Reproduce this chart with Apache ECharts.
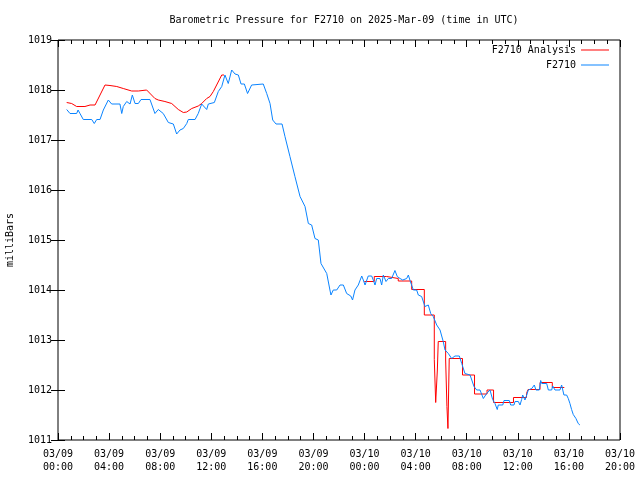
<!DOCTYPE html>
<html>
<head>
<meta charset="utf-8">
<script src="https://cdn.jsdelivr.net/npm/echarts@6/dist/echarts.min.js"></script>
<style>html,body{margin:0;padding:0;background:#fff}#c{width:640px;height:480px}</style>
</head>
<body>
<div id="c"></div>
<script>
// Hours since 03/09 00:00 UTC
const xTickDays = ['03/09','03/10'];
const yTicks = [1011,1012,1013,1014,1015,1016,1017,1018,1019];

// Observed F2710 (blue)
const obsHours = [0.68,0.94,1.46,1.57,1.72,1.98,2.64,2.84,3.03,3.29,3.55,3.94,4.20,4.85,4.99,5.11,5.38,5.64,5.82,6.03,6.29,6.50,7.20,7.59,7.85,8.24,8.64,9.03,9.29,9.55,9.81,10.08,10.20,10.73,10.98,11.25,11.64,11.77,12.24,12.55,12.82,13.07,13.33,13.60,13.86,14.12,14.33,14.59,14.84,15.16,15.29,16.07,16.34,16.60,16.81,17.07,17.54,17.77,18.16,18.55,18.95,19.34,19.60,19.86,20.12,20.38,20.59,21.04,21.29,21.37,21.55,21.82,22.08,22.34,22.60,22.92,23.06,23.25,23.51,23.78,23.90,24.04,24.29,24.56,24.68,24.82,24.95,25.21,25.34,25.47,25.68,25.86,26.12,26.38,26.56,26.78,26.99,27.30,27.43,27.56,27.82,28.08,28.21,28.47,28.73,28.99,29.18,29.38,29.65,29.91,30.16,30.30,30.56,30.82,31.08,31.42,31.61,31.86,32.26,32.57,32.78,33.04,33.30,33.56,33.82,34.03,34.21,34.39,34.47,34.82,34.92,35.33,35.44,35.70,35.78,36.04,36.17,36.30,36.38,36.56,36.70,36.82,36.95,37.09,37.29,37.42,37.68,37.79,37.87,38.26,38.39,38.65,38.73,38.91,39.30,39.43,39.61,39.82,39.95,40.08,40.21,40.34,40.55,40.73,40.86];
const obsValues = [1017.61,1017.53,1017.53,1017.60,1017.53,1017.41,1017.41,1017.33,1017.41,1017.41,1017.60,1017.80,1017.72,1017.72,1017.53,1017.67,1017.77,1017.72,1017.90,1017.73,1017.73,1017.81,1017.81,1017.53,1017.61,1017.53,1017.35,1017.32,1017.12,1017.20,1017.23,1017.33,1017.41,1017.41,1017.53,1017.72,1017.61,1017.72,1017.75,1017.97,1018.07,1018.30,1018.13,1018.40,1018.32,1018.30,1018.12,1018.12,1017.93,1018.10,1018.12,1018.12,1017.93,1017.73,1017.40,1017.32,1017.32,1017.07,1016.67,1016.27,1015.87,1015.67,1015.33,1015.30,1015.03,1015.00,1014.53,1014.33,1014.00,1013.90,1014.00,1014.00,1014.10,1014.10,1013.93,1013.88,1013.80,1014.00,1014.10,1014.28,1014.20,1014.10,1014.28,1014.28,1014.20,1014.10,1014.23,1014.23,1014.10,1014.30,1014.17,1014.23,1014.23,1014.39,1014.27,1014.23,1014.20,1014.23,1014.30,1014.19,1014.00,1014.00,1013.90,1013.87,1013.67,1013.70,1013.53,1013.47,1013.30,1013.20,1012.97,1012.80,1012.73,1012.63,1012.68,1012.68,1012.53,1012.33,1012.30,1012.07,1012.00,1012.00,1011.83,1011.93,1012.00,1011.81,1011.73,1011.61,1011.70,1011.70,1011.79,1011.79,1011.70,1011.70,1011.77,1011.77,1011.70,1011.81,1011.90,1011.80,1011.90,1012.00,1012.00,1012.03,1012.10,1012.00,1012.00,1012.19,1012.13,1012.13,1012.00,1012.00,1012.08,1012.00,1012.00,1012.10,1011.90,1011.90,1011.83,1011.73,1011.61,1011.51,1011.43,1011.33,1011.30];

// Analysis (red), first part (smooth)
const anaAHours = [0.68,1.07,1.46,2.11,2.51,2.90,3.68,4.07,4.60,5.11,5.77,6.29,6.42,6.94,7.59,7.85,8.37,8.90,9.42,9.81,10.08,10.47,10.98,11.25,11.64,11.90,12.16,12.82,13.00];
const anaAValues = [1017.75,1017.73,1017.67,1017.67,1017.70,1017.70,1018.10,1018.09,1018.07,1018.03,1017.98,1017.98,1018.00,1018.00,1017.83,1017.80,1017.77,1017.73,1017.61,1017.55,1017.56,1017.63,1017.68,1017.73,1017.83,1017.87,1017.97,1018.30,1018.30];
// Analysis (red), second part (steps)
const anaBHours = [23.98,24.76,25.73,26.64,27.69,28.68,29.46,29.57,29.70,29.77,30.35,30.45,30.53,30.63,31.67,32.61,33.59,34.10,35.66,36.68,36.80,37.74,38.70,39.64];
const anaBValues = [1014.17,1014.27,1014.23,1014.18,1014.01,1013.50,1012.61,1011.75,1012.40,1012.97,1012.60,1011.67,1011.23,1012.63,1012.30,1011.92,1012.00,1011.75,1011.85,1011.93,1012.01,1012.15,1012.05,1012.05];

const zip = (a,b) => a.map((v,i)=>[v,b[i]]);
const FONT = 'DejaVu Sans Mono';
const RED = '#ff0000', BLUE = '#0a84ff';

const chart = echarts.init(document.getElementById('c'), null, {renderer:'canvas'});
function xlab(v){
  const d = xTickDays[Math.floor(v/24)] || '03/10';
  const h = v % 24;
  return d + '\n' + String(h).padStart(2,'0') + ':00';
}
const commonX = {
  type:'value', min:0, max:44, interval:4,
  axisLine:{show:false},
  splitLine:{show:false},
  axisTick:{show:true, inside:true, length:7, lineStyle:{color:'#000'}},
  minorTick:{show:true, splitNumber:4, length:4, lineStyle:{color:'#000'}},
};
const commonY = {
  type:'value', min:1011, max:1019, interval:1,
  axisLine:{show:false},
  splitLine:{show:false},
  axisTick:{show:true, inside:true, length:7, lineStyle:{color:'#000'}},
};
chart.setOption({
  animation:false,
  backgroundColor:'#fff',
  title:{
    text:'Barometric Pressure for F2710 on 2025-Mar-09 (time in UTC)',
    left:339, top:10, textAlign:'center',
    textStyle:{fontFamily:FONT, fontSize:10, fontWeight:'normal', color:'#000'}
  },
  legend:{
    orient:'vertical', right:26, top:39, align:'right',
    icon:'rect', itemWidth:28, itemHeight:1, itemGap:3,
    textStyle:{fontFamily:FONT, fontSize:10, color:'#000', lineHeight:12},
    data:['F2710 Analysis','F2710']
  },
  grid:{left:58, right:20, top:40, bottom:40, show:true, borderColor:'#000', borderWidth:1,
    backgroundColor:'transparent', outerBoundsMode:'none', containLabel:false},
  xAxis:[
    Object.assign({}, commonX, {position:'bottom',
      axisLabel:{show:true, margin:8, formatter:xlab, fontFamily:FONT, fontSize:10, lineHeight:13, color:'#000'}}),
    Object.assign({}, commonX, {position:'top', axisLabel:{show:false}})
  ],
  yAxis:[
    Object.assign({}, commonY, {position:'left',
      name:'milliBars', nameLocation:'middle', nameGap:43, nameRotate:90,
      nameTextStyle:{fontFamily:FONT, fontSize:10, color:'#000'},
      axisLabel:{show:true, margin:6, fontFamily:FONT, fontSize:10, color:'#000',
        formatter:v=>String(Math.round(v))}}),
    Object.assign({}, commonY, {position:'right', axisLabel:{show:false}})
  ],
  series:[
    {name:'F2710 Analysis', type:'line', xAxisIndex:0, yAxisIndex:0, symbol:'none', showSymbol:false,
      data:zip(anaAHours,anaAValues), lineStyle:{color:RED, width:1}, itemStyle:{color:RED}, z:2},
    {name:'F2710 Analysis', type:'line', xAxisIndex:0, yAxisIndex:0, symbol:'none', showSymbol:false, step:'end',
      data:zip(anaBHours,anaBValues), lineStyle:{color:RED, width:1}, itemStyle:{color:RED}, z:2},
    {name:'F2710', type:'line', xAxisIndex:0, yAxisIndex:0, symbol:'none', showSymbol:false,
      data:zip(obsHours,obsValues), lineStyle:{color:BLUE, width:1}, itemStyle:{color:BLUE}, z:3}
  ]
});
</script>
</body>
</html>
